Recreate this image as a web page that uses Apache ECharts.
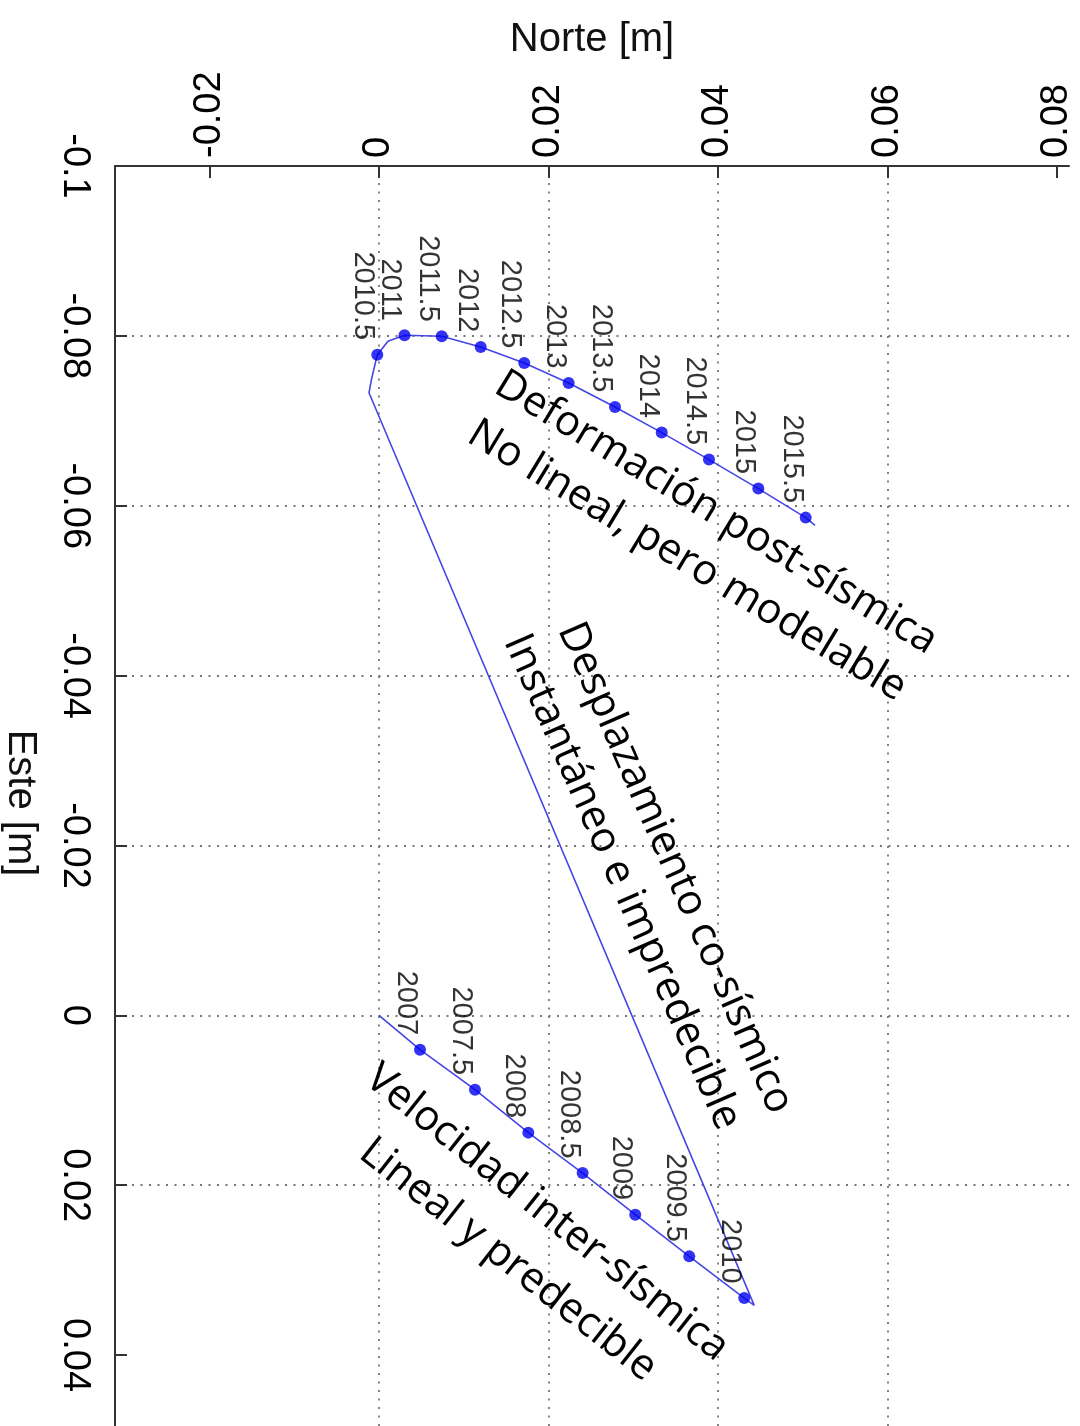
<!DOCTYPE html>
<html>
<head>
<meta charset="utf-8">
<script src="https://cdn.jsdelivr.net/npm/echarts@6/dist/echarts.min.js"></script>
<style>
  html, body { margin: 0; padding: 0; background: #fff; }
  #c { width: 1080px; height: 1426px; }
</style>
</head>
<body>
<div id="c"></div>
<script>
// ---- Data (Norte = horizontal axis, Este = vertical axis, metres) ----
const northTicks = [-0.02, 0, 0.02, 0.04, 0.06, 0.08];
const estTicks = [-0.1, -0.08, -0.06, -0.04, -0.02, 0, 0.02, 0.04];

// Inter-seismic epochs (markers)
const lowYears = ['2007', '2007.5', '2008', '2008.5', '2009', '2009.5', '2010'];
const lowNorte = [0.00484, 0.01133, 0.01762, 0.02403, 0.03024, 0.03661, 0.04310];
const lowEste  = [0.00404, 0.00875, 0.01381, 0.01857, 0.02347, 0.02838, 0.03329];

// Post-seismic epochs (markers)
const highYears = ['2010.5', '2011', '2011.5', '2012', '2012.5', '2013', '2013.5', '2014', '2014.5', '2015', '2015.5'];
const highNorte = [-0.00020, 0.00301, 0.00740, 0.01200, 0.01714, 0.02238, 0.02785, 0.03336, 0.03894, 0.04476, 0.05035];
const highEste  = [-0.07779, -0.08007, -0.07995, -0.07869, -0.07681, -0.07445, -0.07163, -0.06861, -0.06543, -0.06202, -0.05860];

// Full trajectory (polyline)
const trackNorte = [0, 0.00484, 0.01133, 0.01762, 0.02403, 0.03024, 0.03661, 0.04310, 0.04428,
  -0.00118, -0.00090, -0.00020, 0.00106, 0.00301, 0.00740, 0.01200, 0.01714, 0.02238, 0.02785,
  0.03336, 0.03894, 0.04476, 0.05035, 0.05145];
const trackEste = [0, 0.00404, 0.00875, 0.01381, 0.01857, 0.02347, 0.02838, 0.03329, 0.03415,
  -0.07330, -0.07480, -0.07779, -0.07936, -0.08007, -0.07995, -0.07869, -0.07681, -0.07445, -0.07163,
  -0.06861, -0.06543, -0.06202, -0.05860, -0.05770];

// Annotations
const notes = [
  { text: 'Deformación post-sísmica', x: 716, y: 513, angle: 31.2 },
  { text: 'No lineal, pero modelable', x: 687, y: 561, angle: 31.2 },
  { text: 'Desplazamiento co-sísmico', x: 675, y: 868, angle: 66.4 },
  { text: 'Instantáneo e impredecible', x: 622, y: 882, angle: 66.4 },
  { text: 'Velocidad inter-sísmica', x: 547, y: 1213, angle: 38.4 },
  { text: 'Lineal y predecible', x: 508, y: 1260, angle: 38.2 }
];

const trackData = trackNorte.map((n, i) => [n, trackEste[i]]);
const markerData = lowNorte.map((n, i) => [n, lowEste[i], lowYears[i]])
  .concat(highNorte.map((n, i) => [n, highEste[i], highYears[i]]));

const AX = '#333';
const GRID = { type: [2, 6.5], color: '#777', width: 1.8 };
const tickFont = { fontSize: 38, fontFamily: 'Liberation Sans', color: '#000' };

const chart = echarts.init(document.getElementById('c'), null, { renderer: 'canvas' });
chart.setOption({
  animation: false,
  backgroundColor: '#ffffff',
  grid: { left: 115, top: 166, right: 11, bottom: -14, containLabel: false, outerBoundsMode: 'none' },
  xAxis: {
    type: 'value', position: 'top', min: -0.03115, max: 0.08142, splitNumber: 5,
    name: 'Norte [m]', nameLocation: 'middle', nameGap: 106, nameMoveOverlap: false,
    nameTextStyle: { fontSize: 40, fontFamily: 'Liberation Sans', color: '#111' },
    axisLine: { show: true, onZero: false, lineStyle: { color: AX, width: 2 } },
    axisTick: { show: true, inside: true, length: 12, customValues: northTicks, lineStyle: { color: AX, width: 2 } },
    axisLabel: Object.assign({ rotate: -90, margin: 8, customValues: northTicks }, tickFont),
    splitLine: { show: true, showMinLine: false, showMaxLine: false, lineStyle: GRID }
  },
  yAxis: {
    type: 'value', inverse: true, min: -0.1, max: 0.05, interval: 0.02,
    name: 'Este [m]', nameLocation: 'middle', nameGap: 75, nameRotate: -90, nameMoveOverlap: false,
    nameTextStyle: { fontSize: 40, fontFamily: 'Liberation Sans', color: '#111' },
    axisLine: { show: true, onZero: false, lineStyle: { color: AX, width: 2 } },
    axisTick: { show: true, inside: true, length: 12, customValues: estTicks, lineStyle: { color: AX, width: 2 } },
    axisLabel: Object.assign({ rotate: -90, margin: 22, customValues: estTicks }, tickFont),
    splitLine: { show: true, showMinLine: false, showMaxLine: false, lineStyle: GRID }
  },
  series: [
    {
      type: 'line', data: trackData, showSymbol: false, symbol: 'none', z: 2,
      lineStyle: { color: '#4646e6', width: 1.6 }, silent: true
    },
    {
      type: 'scatter', data: markerData, symbol: 'circle', symbolSize: 12, z: 3,
      itemStyle: { color: '#0000f0' },
      label: {
        show: true, position: [-8, -8.5], rotate: -90, align: 'right', verticalAlign: 'middle',
        formatter: p => p.value[2],
        fontSize: 29, fontFamily: 'Liberation Sans', color: '#000'
      }
    }
  ],
  graphic: notes.map(n => ({
    type: 'text', x: n.x, y: n.y, rotation: -n.angle * Math.PI / 180, z: 10,
    style: { text: n.text, fontSize: 42, fontFamily: 'Open Sans', fill: '#000', align: 'center', verticalAlign: 'middle' }
  }))
});
</script>
</body>
</html>
